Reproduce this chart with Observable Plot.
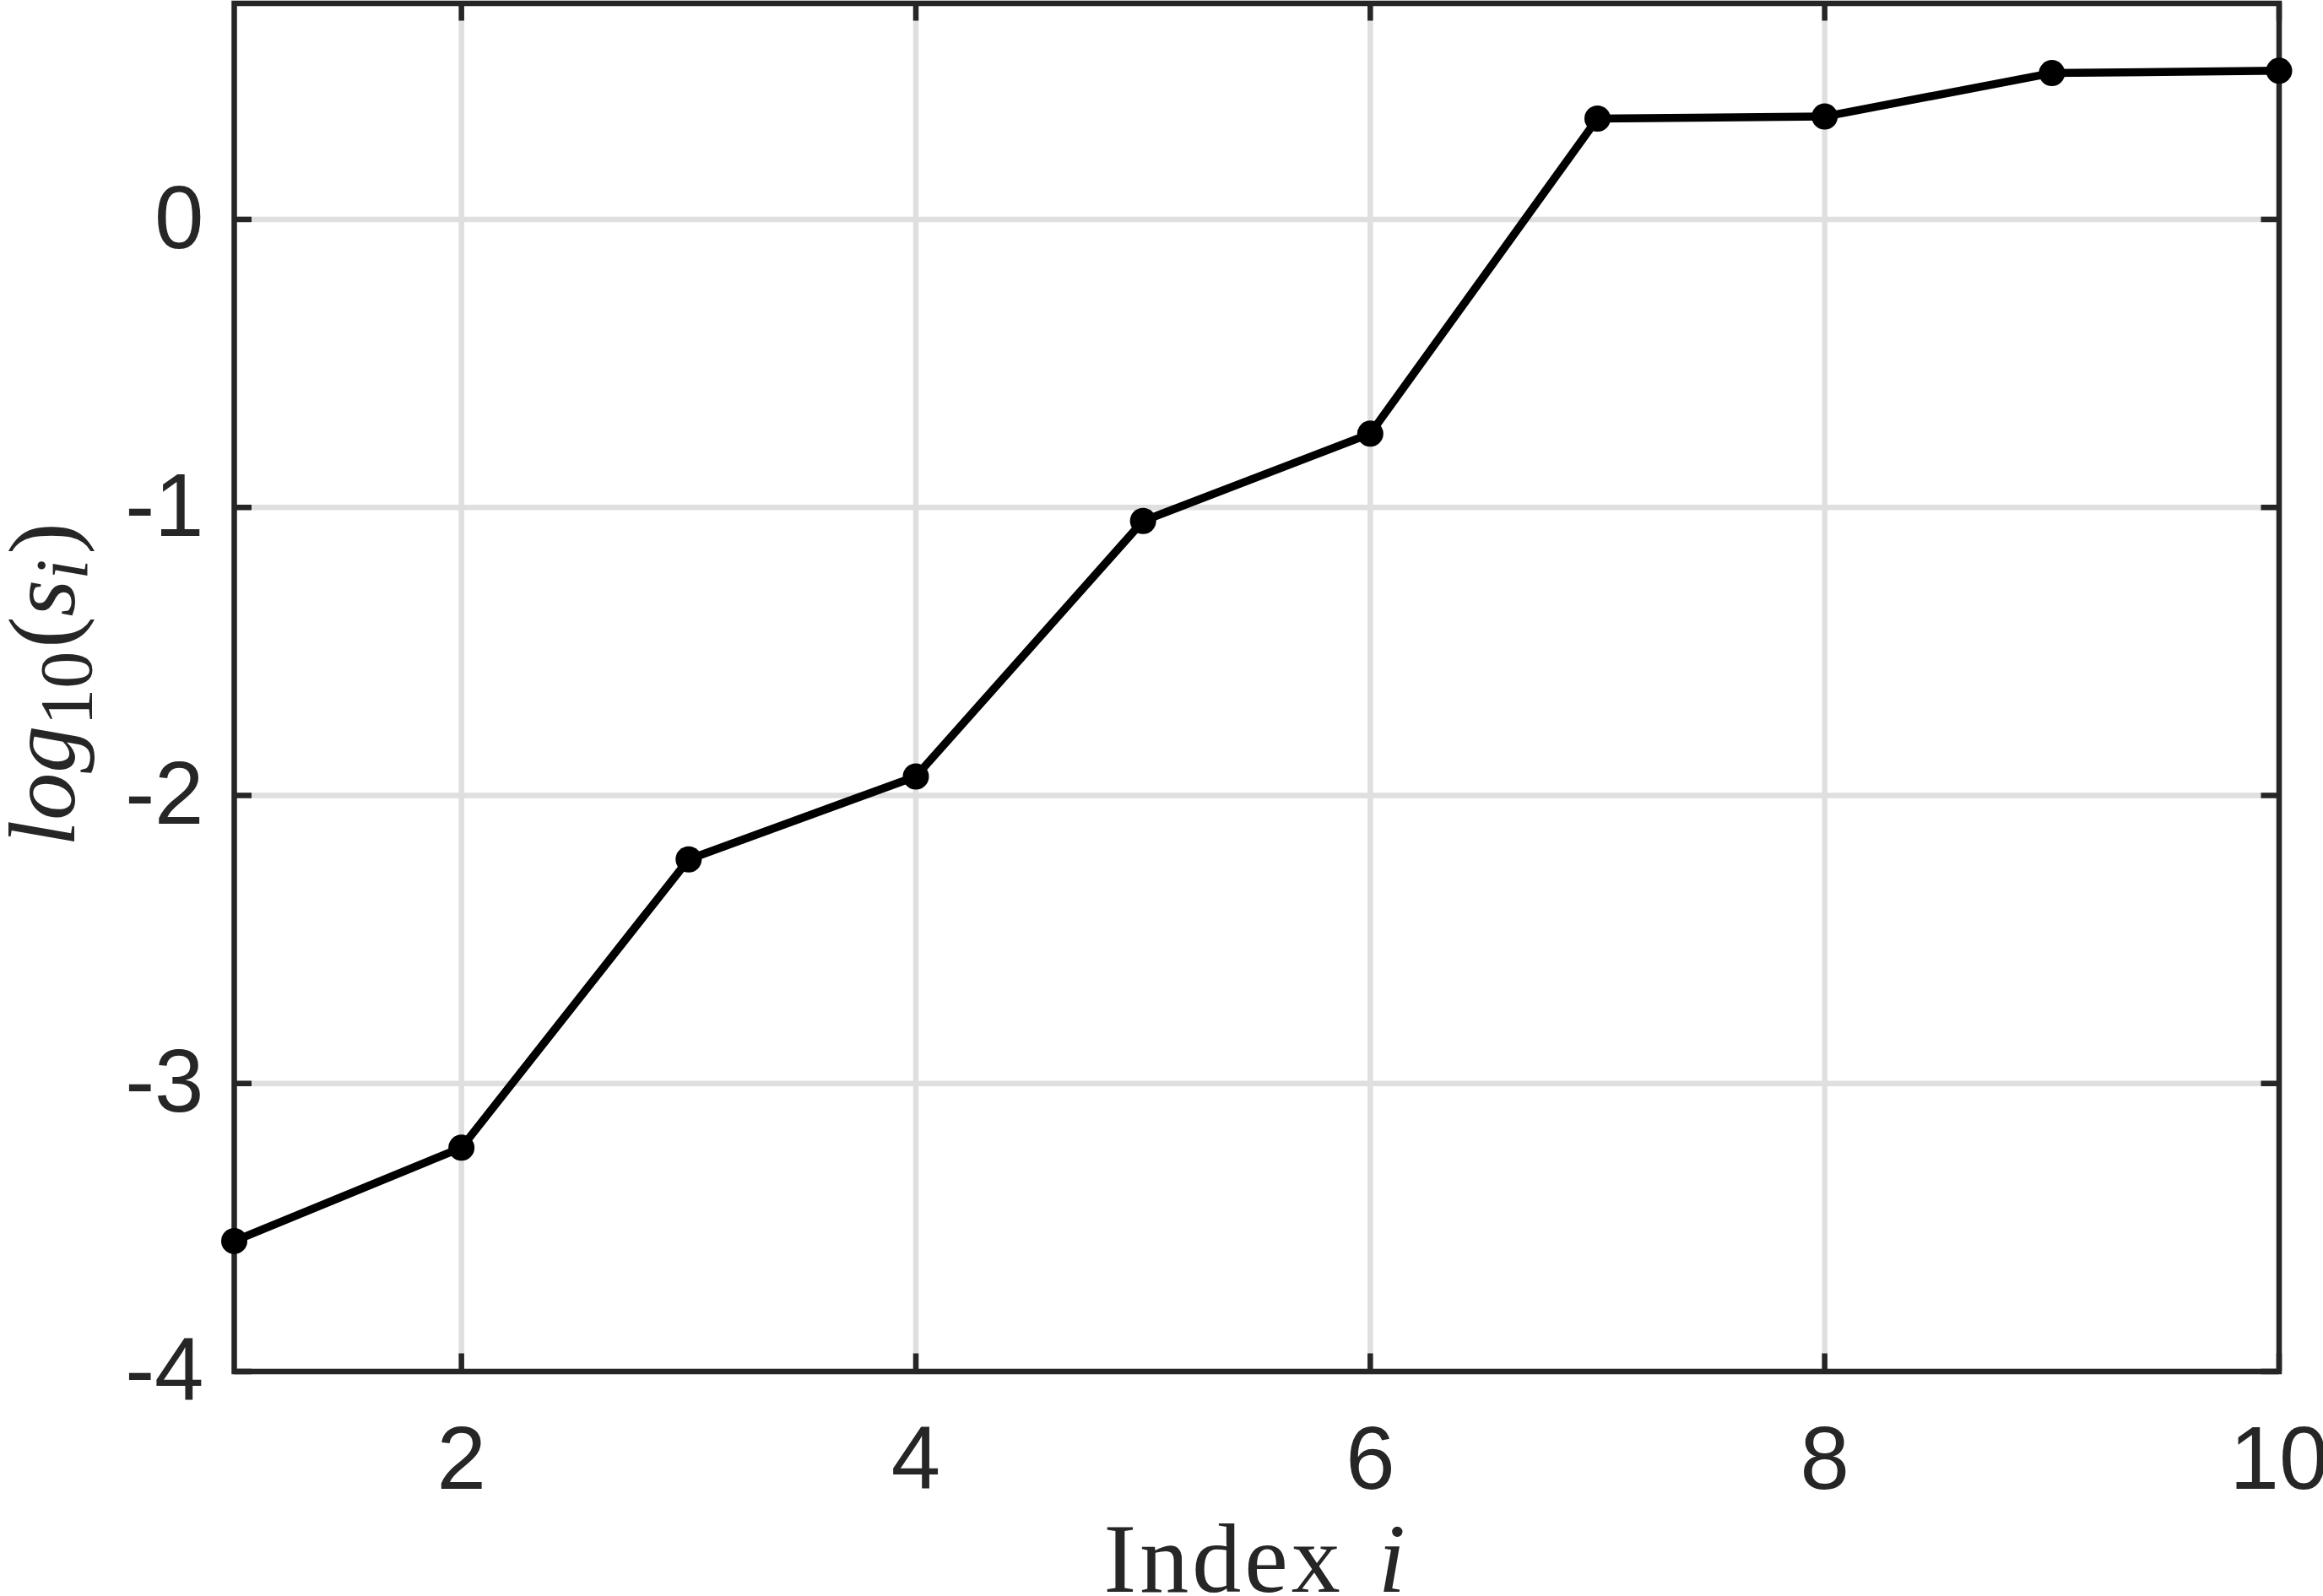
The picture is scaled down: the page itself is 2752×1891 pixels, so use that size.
<!DOCTYPE html>
<html>
<head>
<meta charset="utf-8">
<script src="https://cdn.jsdelivr.net/npm/d3@7"></script>
<script src="https://cdn.jsdelivr.net/npm/@observablehq/plot@0.6"></script>
<style>
  html, body { margin: 0; padding: 0; background: #ffffff; }
  #chart svg { display: block; }
</style>
</head>
<body>
<div id="chart"></div>
<script>
// ---- data ----
const indices   = [1, 2, 3, 4, 5, 6, 7, 8, 9, 10];
const logValues = [-3.547, -3.223, -2.222, -1.934, -1.047, -0.744, 0.350, 0.357, 0.508, 0.516];
const xTicks = [2, 4, 6, 8, 10];
const yTicks = [-4, -3, -2, -1, 0];
const xLabelText = "Index";
const xLabelVar = "i";

const data = indices.map((idx, k) => ({ idx, v: logValues[k] }));

// ---- layout ----
const W = 2752, H = 1891;
const mL = 277, mR = 52.5, mT = 3.5, mB = 266.5;
const plotW = W - mL - mR, plotH = H - mT - mB;
const tickLen = 21;
const ink = "#262626";
const gridColor = "#dfdfdf";

const chart = Plot.plot({
  width: W,
  height: H,
  marginLeft: mL,
  marginRight: mR,
  marginTop: mT,
  marginBottom: mB,
  style: {
    background: "#ffffff",
    color: ink,
    fontFamily: "'Liberation Sans', Arial, Helvetica, sans-serif",
    overflow: "visible"
  },
  x: { domain: [1, 10] },
  y: { domain: [-4, 0.75] },
  marks: [
    Plot.gridX(xTicks, { stroke: gridColor, strokeOpacity: 1, strokeWidth: 6.5 }),
    Plot.gridY(yTicks, { stroke: gridColor, strokeOpacity: 1, strokeWidth: 6.5 }),
    // inward ticks on all four sides
    Plot.ruleX(xTicks, { insetTop: plotH - tickLen, stroke: ink, strokeWidth: 6.5 }),
    Plot.ruleX(xTicks, { insetBottom: plotH - tickLen, stroke: ink, strokeWidth: 6.5 }),
    Plot.ruleY(yTicks, { insetRight: plotW - tickLen, stroke: ink, strokeWidth: 6.5 }),
    Plot.ruleY(yTicks, { insetLeft: plotW - tickLen, stroke: ink, strokeWidth: 6.5 }),
    Plot.axisX(xTicks, {
      anchor: "bottom", tickSize: 0, tickPadding: 64, fontSize: 105,
      label: null, tickFormat: d => String(d), fill: ink
    }),
    Plot.axisY(yTicks, {
      anchor: "left", tickSize: 0, tickPadding: 36, fontSize: 105,
      label: null, tickFormat: d => String(d), fill: ink
    }),
    Plot.frame({ stroke: ink, strokeWidth: 6.5 }),
    Plot.line(data, { x: "idx", y: "v", stroke: "#000000", strokeWidth: 9.5 }),
    Plot.dot(data, { x: "idx", y: "v", r: 15.5, fill: "#000000", stroke: "none" })
  ]
});

document.getElementById("chart").appendChild(chart);

// ---- axis titles (LaTeX-like serif) ----
const svg = d3.select(chart);
const serif = "'Liberation Serif', 'Times New Roman', serif";

// x label: "Index i"
const xl = svg.append("text")
  .attr("x", (mL + (W - mR)) / 2)
  .attr("y", 1886)
  .attr("text-anchor", "middle")
  .attr("font-family", serif)
  .attr("font-size", 116)
  .attr("letter-spacing", 4)
  .attr("fill", ink);
xl.append("tspan").text(xLabelText + " ");
xl.append("tspan").attr("font-style", "italic").attr("dx", 8).text(xLabelVar);

// y label: log_10(s_i)
const F = 112, S = 88;
const yl = svg.append("text")
  .attr("transform", "translate(88,811) rotate(-90)")
  .attr("text-anchor", "middle")
  .attr("font-family", serif)
  .attr("font-size", F)
  .attr("fill", ink);
yl.append("tspan").attr("font-style", "italic").text("log");
yl.append("tspan").attr("font-size", S).attr("dy", 20).text("10");
yl.append("tspan").attr("dy", -20).attr("dx", 4).text("(");
yl.append("tspan").attr("font-style", "italic").text("s");
yl.append("tspan").attr("font-style", "italic").attr("font-size", S).attr("dy", 15).text("i");
yl.append("tspan").attr("dy", -15).attr("dx", 6).text(")");
</script>
</body>
</html>
